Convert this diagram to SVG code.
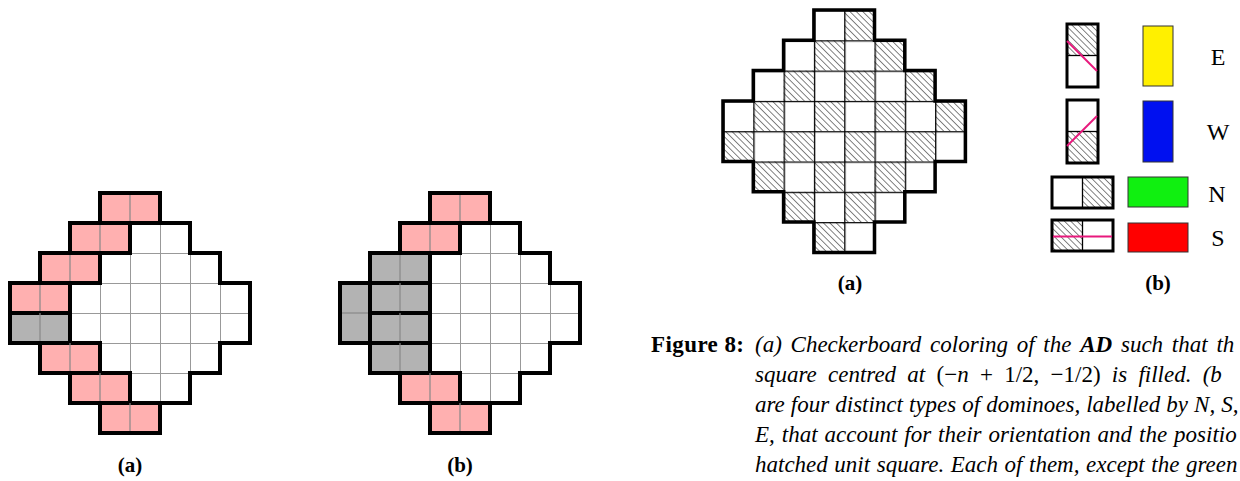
<svg xmlns="http://www.w3.org/2000/svg" width="1240" height="481" viewBox="0 0 1240 481">
<style>
.pk{fill:#FFB0B0;stroke:#000;stroke-width:4}
.gy{fill:#B3B3B3;stroke:#000;stroke-width:4}
.dv{stroke:#888;stroke-width:1.2;fill:none}
.outer{fill:none;stroke:#000;stroke-width:4;stroke-linejoin:miter}
.hc{fill:url(#hatch);stroke:none}
.lbl{font-family:"Liberation Serif",serif;font-weight:bold;font-size:21px;text-anchor:middle;fill:#000}
.dir{font-family:"Liberation Serif",serif;font-size:24px;text-anchor:middle;fill:#000}
.cap{font-family:"Liberation Serif",serif;font-style:italic;font-size:23px;fill:#000}
.dom{stroke:#000;stroke-width:3}
.mid{stroke:#000;stroke-width:1.3}
.mag{stroke:#E8197D;stroke-width:2}
.col{stroke:#333;stroke-width:1}
</style>
<defs>
<pattern id="grid" patternUnits="userSpaceOnUse" width="30" height="30">
<rect width="30" height="30" fill="#fff"/>
<path d="M0 0H30M0 0V30" stroke="#999" stroke-width="2"/>
</pattern>
<pattern id="bgrid" patternUnits="userSpaceOnUse" width="30" height="30">
<path d="M0 0H30M0 0V30" stroke="#000" stroke-width="2.6"/>
</pattern>
<pattern id="hatch" patternUnits="userSpaceOnUse" width="4.5" height="4.5" patternTransform="rotate(45)">
<rect width="4.5" height="4.5" fill="#fff"/>
<path d="M0 2.25H4.5" stroke="#777" stroke-width="0.9"/>
</pattern>
<path id="diamond" d="M90 0h60v30h30v30h30v30h30v60h-30v30h-30v30h-30v30h-60v-30h-30v-30h-30v-30h-30v-60h30v-30h30v-30h30z"/>
</defs>

<g id="panel-a" transform="translate(10,193)">
<use href="#diamond" fill="url(#grid)"/>
<rect class="pk" x="90" y="0" width="60" height="30"/><path class="dv" d="M120 0v30"/>
<rect class="pk" x="60" y="30" width="60" height="30"/><path class="dv" d="M90 30v30"/>
<rect class="pk" x="30" y="60" width="60" height="30"/><path class="dv" d="M60 60v30"/>
<rect class="pk" x="0" y="90" width="60" height="30"/><path class="dv" d="M30 90v30"/>
<rect class="gy" x="0" y="120" width="60" height="30"/><path class="dv" d="M30 120v30"/>
<rect class="pk" x="30" y="150" width="60" height="30"/><path class="dv" d="M60 150v30"/>
<rect class="pk" x="60" y="180" width="60" height="30"/><path class="dv" d="M90 180v30"/>
<rect class="pk" x="90" y="210" width="60" height="30"/><path class="dv" d="M120 210v30"/>
<use href="#diamond" class="outer"/>
</g>
<text class="lbl" x="130" y="472">(a)</text>

<g id="panel-b" transform="translate(340,193)">
<use href="#diamond" fill="url(#grid)"/>
<rect class="pk" x="90" y="0" width="60" height="30"/><path class="dv" d="M120 0v30"/>
<rect class="pk" x="60" y="30" width="60" height="30"/><path class="dv" d="M90 30v30"/>
<rect class="gy" x="30" y="60" width="60" height="30"/><path class="dv" d="M60 60v30"/>
<rect class="gy" x="0" y="90" width="30" height="60"/><path class="dv" d="M0 120h30"/>
<rect class="gy" x="30" y="90" width="60" height="30"/><path class="dv" d="M60 90v30"/>
<rect class="gy" x="30" y="120" width="60" height="30"/><path class="dv" d="M60 120v30"/>
<rect class="gy" x="30" y="150" width="60" height="30"/><path class="dv" d="M60 150v30"/>
<rect class="pk" x="60" y="180" width="60" height="30"/><path class="dv" d="M90 180v30"/>
<rect class="pk" x="90" y="210" width="60" height="30"/><path class="dv" d="M120 210v30"/>
<use href="#diamond" class="outer"/>
</g>
<text class="lbl" x="460" y="472">(b)</text>

<g id="checkerboard" transform="translate(723,10) scale(1.01)">
<use href="#diamond" fill="#fff"/>
<rect class="hc" x="120" y="0" width="30" height="30"/>
<rect class="hc" x="90" y="30" width="30" height="30"/>
<rect class="hc" x="150" y="30" width="30" height="30"/>
<rect class="hc" x="60" y="60" width="30" height="30"/>
<rect class="hc" x="120" y="60" width="30" height="30"/>
<rect class="hc" x="180" y="60" width="30" height="30"/>
<rect class="hc" x="30" y="90" width="30" height="30"/>
<rect class="hc" x="90" y="90" width="30" height="30"/>
<rect class="hc" x="150" y="90" width="30" height="30"/>
<rect class="hc" x="210" y="90" width="30" height="30"/>
<rect class="hc" x="0" y="120" width="30" height="30"/>
<rect class="hc" x="60" y="120" width="30" height="30"/>
<rect class="hc" x="120" y="120" width="30" height="30"/>
<rect class="hc" x="180" y="120" width="30" height="30"/>
<rect class="hc" x="30" y="150" width="30" height="30"/>
<rect class="hc" x="90" y="150" width="30" height="30"/>
<rect class="hc" x="150" y="150" width="30" height="30"/>
<rect class="hc" x="60" y="180" width="30" height="30"/>
<rect class="hc" x="120" y="180" width="30" height="30"/>
<rect class="hc" x="90" y="210" width="30" height="30"/>
<use href="#diamond" fill="url(#bgrid)"/>
<use href="#diamond" class="outer" style="stroke-width:3.5"/>
</g>
<text class="lbl" x="850" y="290">(a)</text>

<g id="legend-E">
<rect x="1067" y="24" width="31" height="31.5" fill="url(#hatch)"/>
<rect class="dom" x="1067" y="24" width="31" height="63" fill="none"/>
<path class="mid" d="M1067 55.5h31"/>
<path class="mag" d="M1067 41L1097 71"/>
<rect class="col" x="1143" y="26" width="30" height="60" fill="#FFF000"/>
<text class="dir" x="1218" y="65">E</text>
</g>
<g id="legend-W">
<rect x="1067" y="131.5" width="31" height="31.5" fill="url(#hatch)"/>
<rect class="dom" x="1067" y="100" width="31" height="63" fill="none"/>
<path class="mid" d="M1067 131.5h31"/>
<path class="mag" d="M1067 146L1097 116"/>
<rect class="col" x="1143" y="101" width="30" height="61" fill="#0010F0"/>
<text class="dir" x="1218" y="140">W</text>
</g>
<g id="legend-N">
<rect x="1082.5" y="177" width="30.5" height="31" fill="url(#hatch)"/>
<rect class="dom" x="1052" y="177" width="61" height="31" fill="none"/>
<path class="mid" d="M1082.5 177v31"/>
<rect class="col" x="1128" y="177" width="60" height="30" fill="#10F010"/>
<text class="dir" x="1217" y="202">N</text>
</g>
<g id="legend-S">
<rect x="1052" y="220" width="30.5" height="31" fill="url(#hatch)"/>
<rect class="dom" x="1052" y="220" width="61" height="31" fill="none"/>
<path class="mid" d="M1082.5 220v31"/>
<path class="mag" d="M1053 236.5H1112"/>
<rect class="col" x="1128" y="223" width="60" height="29" fill="#FF0000"/>
<text class="dir" x="1218" y="246">S</text>
</g>
<text class="lbl" x="1158" y="290">(b)</text>

<g id="caption">
<text class="cap" x="651" y="352" textLength="93"><tspan font-style="normal" font-weight="bold">Figure 8:</tspan></text>
<text class="cap" x="755" y="352" word-spacing="3">(a) Checkerboard coloring of the <tspan font-weight="bold">AD</tspan> such that th</text>
<text class="cap" x="755" y="382" word-spacing="5.5">square centred at <tspan font-style="normal">(−</tspan>n<tspan font-style="normal"> + 1/2, −1/2)</tspan> is filled. (b</text>
<text class="cap" x="755" y="412" word-spacing="0.3">are four distinct types of dominoes, labelled by N, S,</text>
<text class="cap" x="755" y="442" word-spacing="1.2">E, that account for their orientation and the positio</text>
<text class="cap" x="755" y="472" word-spacing="0.8">hatched unit square. Each of them, except the green</text>
</g>
</svg>
